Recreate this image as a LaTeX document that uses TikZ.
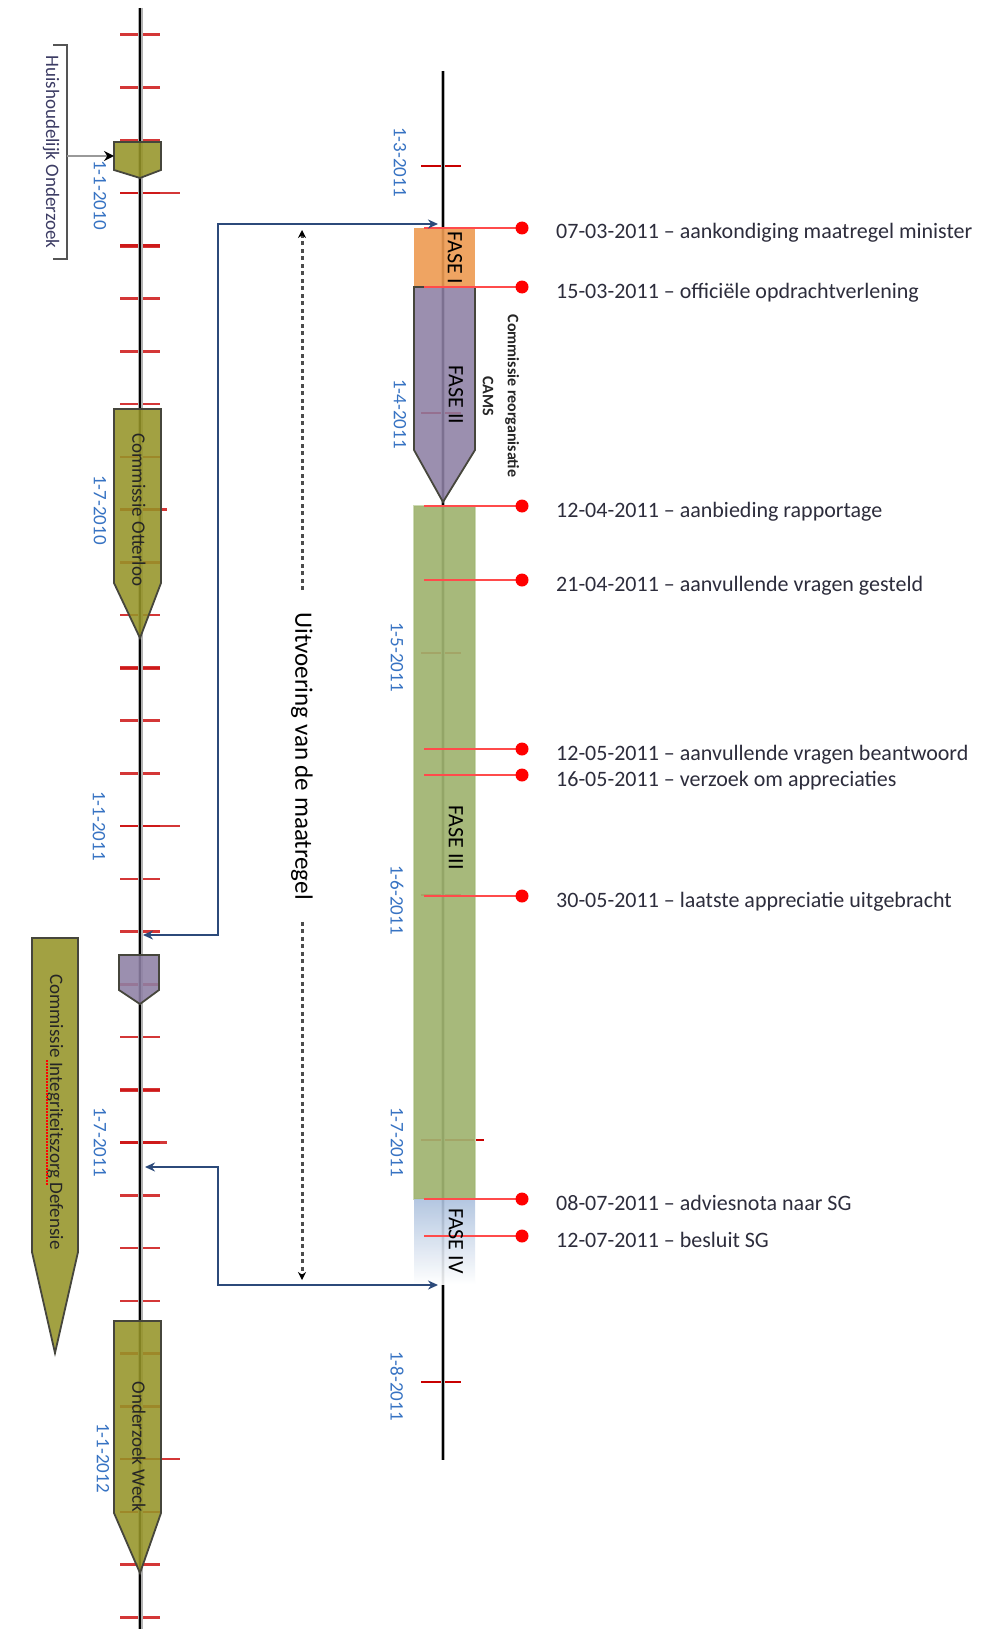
\documentclass[tikz,border=0pt]{standalone}
\usepackage{fontspec}
\setmainfont{Carlito}
\usetikzlibrary{arrows.meta}
\definecolor{olivefill}{RGB}{150,148,40}
\definecolor{purplefill}{RGB}{142,128,165}
\definecolor{orangefill}{RGB}{238,155,82}
\definecolor{greenfill}{RGB}{160,180,112}
\definecolor{greenedge}{RGB}{205,218,180}
\definecolor{navy}{RGB}{44,74,122}
\definecolor{tickred}{RGB}{205,20,20}
\definecolor{rtickred}{RGB}{200,0,0}
\definecolor{evred}{RGB}{255,75,75}
\definecolor{datelbl}{RGB}{55,115,195}
\definecolor{evtext}{RGB}{45,45,60}
\definecolor{shapeline}{RGB}{70,70,60}
\definecolor{bracketgray}{RGB}{85,85,85}
\definecolor{huistext}{RGB}{60,60,100}
\definecolor{faseivtop}{RGB}{172,193,222}
\begin{document}
\begin{tikzpicture}[x=1pt,y=-1pt,
 mtick/.style={draw=tickred, line width=2.5pt, draw opacity=0.85},
 rtick/.style={draw=rtickred, line width=2.5pt},
 halo/.style={draw=black!30, line width=5pt},
 axisl/.style={draw=black, line width=2pt},
 oliveshape/.style={fill=olivefill, fill opacity=0.88, draw=shapeline, line width=1.8pt},
 purpleshape/.style={fill=purplefill, fill opacity=0.88, draw=shapeline, line width=1.8pt},
 datel/.style={text=datelbl, font=\fontsize{19}{22}\selectfont, rotate=-90, inner sep=0pt},
 shapetxt/.style={text=black!85, font=\fontsize{19}{22}\selectfont, rotate=-90, inner sep=0pt},
 fasetxt/.style={text=black, font=\fontsize{22}{26}\selectfont, rotate=-90, inner sep=0pt},
 evline/.style={draw=evred, line width=2pt},
 evdot/.style={fill=red},
 evtxt/.style={text=evtext, font=\fontsize{22}{26}\selectfont, inner sep=0pt, anchor=base west},
 conn/.style={draw=navy, line width=2.5pt, {Stealth[length=10pt,width=9pt]}-{Stealth[length=10pt,width=9pt]}},
 spanarrow/.style={draw=black!70, line width=3pt, dash pattern=on 4pt off 3.5pt, -{Stealth[length=8pt,width=8pt,black]}},
]
\useasboundingbox[fill=white] (0,0) rectangle (990,1629);

% ---------- left time axis ----------
\foreach \k in {-3,...,27} {
  \pgfmathsetmacro\yy{193+52.75*\k}
  \draw[mtick] (120,\yy) -- (160,\yy);
}
\foreach \k in {1,9,17} {
  \pgfmathsetmacro\yy{193+52.75*\k}
  \draw[mtick, line width=4pt] (120,\yy) -- (160,\yy);
}
\foreach \k in {0,12,24} {
  \pgfmathsetmacro\yy{193+52.75*\k}
  \draw[mtick] (120,\yy) -- (180,\yy);
}
\foreach \k in {6,18} {
  \pgfmathsetmacro\yy{193+52.75*\k}
  \draw[mtick] (120,\yy) -- (167,\yy);
}
\draw[halo] (140,8) -- (140,1629);
\draw[axisl] (140,8) -- (140,1629);

% ---------- right time axis ----------
\foreach \yy in {166,413,653,895,1382} {
  \draw[rtick] (421,\yy) -- (461,\yy);
}
\draw[rtick] (421,1140) -- (484,1140);
\draw[halo, line width=4pt] (443,71) -- (443,1460);
\draw[axisl] (443,71) -- (443,1460);

% ---------- left shapes ----------
\draw[oliveshape] (114,142) -- (161,142) -- (161,170) -- (140,178) -- (114,170) -- cycle;
\draw[oliveshape] (114,409) -- (161,409) -- (161,583) -- (140,638) -- (114,583) -- cycle;
\draw[purpleshape] (119,955) -- (159,955) -- (159,990) -- (140,1004) -- (119,990) -- cycle;
\draw[oliveshape] (32,938) -- (78,938) -- (78,1252) -- (55,1353) -- (32,1252) -- cycle;
\draw[oliveshape] (114,1321) -- (161,1321) -- (161,1513) -- (140,1573) -- (114,1513) -- cycle;

% bracket for Huishoudelijk Onderzoek
\draw[bracketgray, line width=2.2pt] (53,45) -- (67,45) -- (67,259) -- (53,259);
\coordinate (brk) at (67,156);
\coordinate (huis) at (114,156);
\draw[black!40, line width=2.5pt, -{Stealth[length=10pt,width=10pt,black]}] (brk) -- (huis);

% ---------- right phase blocks ----------
\fill[orangefill, fill opacity=0.9] (414,228) rectangle (475,287);
\draw[purpleshape] (414,287) -- (475,287) -- (475,450) -- (443,502) -- (414,450) -- cycle;
\draw[greenedge, line width=2pt] (414,506) rectangle (475,1199);
\fill[greenfill, fill opacity=0.92] (414,506) rectangle (475,1199);
\shade[top color=faseivtop, bottom color=white, fill opacity=0.9] (414,1199) rectangle (475,1284);

% ---------- events ----------
\foreach \y/\txt [count=\i] in {
  228/{07-03-2011 – aankondiging maatregel minister},
  287/{15-03-2011 – officiële opdrachtverlening},
  506/{12-04-2011 – aanbieding rapportage},
  580/{21-04-2011 – aanvullende vragen gesteld},
  749/{12-05-2011 – aanvullende vragen beantwoord},
  775/{16-05-2011 – verzoek om appreciaties},
  896/{30-05-2011 – laatste appreciatie uitgebracht},
  1199/{08-07-2011 – adviesnota naar SG},
  1236/{12-07-2011 – besluit SG}} {
  \draw[evline] (424,\y) -- (522,\y);
  \fill[evdot] (522,\y) circle (6.5);
  \node[evtxt] (ev\i) at (556,\y+11) {\txt};
}

% ---------- texts ----------
\node[shapetxt, text=huistext] (huistxt) at (51,152) {Huishoudelijk Onderzoek};
\node[shapetxt] (otterloo) at (139,510) {Commissie Otterloo};
\node[shapetxt] (integriteit) at (55,1112) {Commissie Integriteitszorg Defensie};
\draw[red, line width=1.3pt, dash pattern=on 1.5pt off 1.5pt] (47,1060) -- (47,1185);
\node[shapetxt] (weck) at (139,1447) {Onderzoek Weck};

\node[datel] (d1) at (100,195) {1-1-2010};
\node[datel] (d2) at (100,510) {1-7-2010};
\node[datel] (d3) at (99,826) {1-1-2011};
\node[datel] (d4) at (100,1142) {1-7-2011};
\node[datel] (d5) at (103,1458) {1-1-2012};

\node[datel] (r1) at (400,162) {1-3-2011};
\node[datel] (r2) at (400,414) {1-4-2011};
\node[datel] (r3) at (397,657) {1-5-2011};
\node[datel] (r4) at (397,900) {1-6-2011};
\node[datel] (r5) at (397,1142) {1-7-2011};
\node[datel] (r6) at (397,1386) {1-8-2011};

\node[fasetxt] (fase1) at (455,258) {FASE I};
\node[fasetxt] (fase2) at (456,395) {FASE II};
\node[fasetxt] (fase3) at (456,838) {FASE III};
\node[fasetxt] (fase4) at (456,1241) {FASE IV};

\node[rotate=-90, align=center, font=\fontsize{16}{25}\selectfont\bfseries, text=black!85, inner sep=0pt] (cams) at (501,396) {Commissie reorganisatie\\CAMS};

% ---------- connectors ----------
\coordinate (la) at (143,935);
\coordinate (ra) at (438,224);
\draw[conn] (la) -- ++(75,0) |- (ra);
\coordinate (lb) at (145,1167);
\coordinate (rb) at (438,1285);
\draw[conn] (lb) -- ++(73,0) |- (rb);

\node[rotate=-90, font=\fontsize{25}{30}\selectfont, inner ysep=0pt, inner xsep=22pt] (uitv) at (302,756) {Uitvoering van de maatregel};
\coordinate (ut) at (302,230);
\coordinate (ub) at (302,1280);
\draw[spanarrow] (uitv.west) -- (ut);
\draw[spanarrow] (uitv.east) -- (ub);
\end{tikzpicture}
\end{document}
